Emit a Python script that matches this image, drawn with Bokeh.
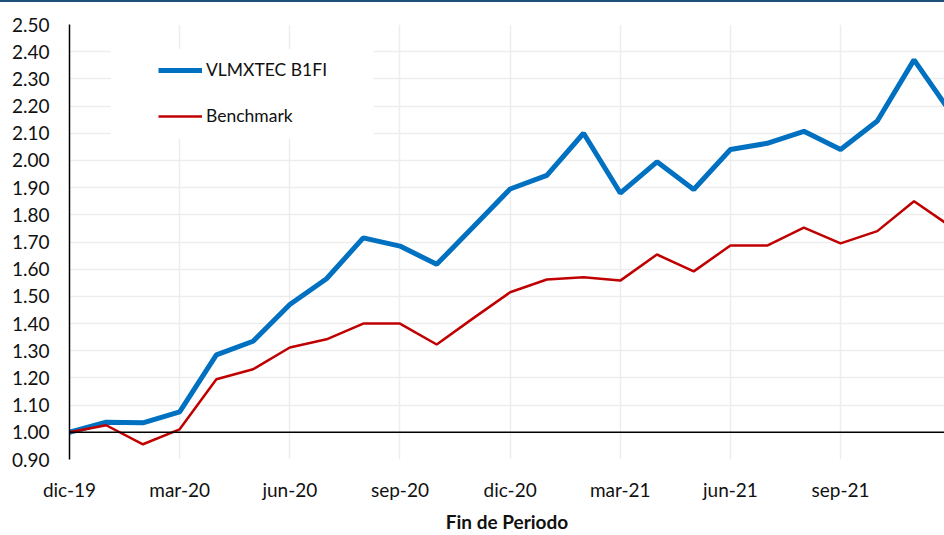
from bokeh.plotting import figure
from bokeh.layouts import column
from bokeh.models import (Range1d, FixedTicker, NumeralTickFormatter, Span,
                          BoxAnnotation, Spacer)
from bokeh.embed import file_html
from bokeh.resources import INLINE

# ---- data ----
months = ["dic-19", "ene-20", "feb-20", "mar-20", "abr-20", "may-20", "jun-20",
          "jul-20", "ago-20", "sep-20", "oct-20", "nov-20", "dic-20", "ene-21",
          "feb-21", "mar-21", "abr-21", "may-21", "jun-21", "jul-21", "ago-21",
          "sep-21", "oct-21", "nov-21", "dic-21"]
fund = [1.00, 1.037, 1.035, 1.075, 1.285, 1.335, 1.47, 1.565, 1.715, 1.685,
        1.618, 1.756, 1.895, 1.945, 2.10, 1.88, 1.995, 1.893, 2.04, 2.063,
        2.107, 2.04, 2.145, 2.37, 2.176]
bench = [1.00, 1.026, 0.956, 1.011, 1.195, 1.232, 1.312, 1.342, 1.40, 1.40,
         1.323, 1.42, 1.515, 1.562, 1.57, 1.558, 1.654, 1.592, 1.687, 1.687,
         1.753, 1.695, 1.74, 1.85, 1.757]
tick_idx = [0, 3, 6, 9, 12, 15, 18, 21]
y_ticks = [0.90, 1.00, 1.10, 1.20, 1.30, 1.40, 1.50, 1.60, 1.70, 1.80, 1.90,
           2.00, 2.10, 2.20, 2.30, 2.40, 2.50]
fund_name = "VLMXTEC B1FI"
bench_name = "Benchmark"
x_title = "Fin de Periodo"

FONT = "Lato"
x = list(range(len(months)))

p = figure(width=944, height=533, output_backend="svg", toolbar_location=None,
           x_range=Range1d(0, 23.83), y_range=Range1d(0.90, 2.50),
           min_border_left=69, min_border_top=22, min_border_right=0,
           min_border_bottom=76, background_fill_color="white",
           border_fill_color="white")
p.outline_line_color = None

# white legend background box (covers gridlines)
box = BoxAnnotation(left=1.12, right=8.29, bottom=2.081, top=2.41,
                    fill_color="white", fill_alpha=1.0, line_alpha=0)
p.add_layout(box)

# axes
p.xaxis.ticker = FixedTicker(ticks=tick_idx)
p.xaxis.major_label_overrides = {i: months[i] for i in tick_idx}
p.xaxis.axis_line_color = None
p.xaxis.major_tick_line_color = None
p.xaxis.minor_tick_line_color = None
p.xaxis.major_label_standoff = 12
p.xaxis.major_label_text_font = FONT
p.xaxis.major_label_text_font_size = "19px"
p.xaxis.major_label_text_color = "#111111"
p.xaxis.axis_label = x_title
p.xaxis.axis_label_standoff = 6
p.xaxis.axis_label_text_font = FONT
p.xaxis.axis_label_text_font_style = "bold"
p.xaxis.axis_label_text_font_size = "19px"
p.xaxis.axis_label_text_color = "#111111"

p.yaxis.ticker = FixedTicker(ticks=y_ticks)
p.yaxis.formatter = NumeralTickFormatter(format="0.00")
p.yaxis.axis_line_color = "black"
p.yaxis.axis_line_width = 1.5
p.yaxis.major_tick_line_color = None
p.yaxis.minor_tick_line_color = None
p.yaxis.major_label_standoff = 14
p.yaxis.major_label_text_font = FONT
p.yaxis.major_label_text_font_size = "19px"
p.yaxis.major_label_text_color = "#111111"

p.xgrid.ticker = FixedTicker(ticks=tick_idx)
p.ygrid.ticker = FixedTicker(ticks=y_ticks)
for g in (p.xgrid, p.ygrid):
    g.grid_line_color = "#EDEDED"
    g.grid_line_width = 1.5

# baseline at 1.00
p.add_layout(Span(location=1.0, dimension="width", line_color="black",
                  line_width=1.5))

# series
p.line(x, fund, line_color="#0070C0", line_width=5, legend_label=fund_name)
p.line(x, bench, line_color="#C00000", line_width=2.5, legend_label=bench_name)

lg = p.legend[0]
lg.location = (89, 333)
lg.background_fill_alpha = 0
lg.border_line_alpha = 0
lg.padding = 0
lg.margin = 0
lg.spacing = 25
lg.glyph_width = 44
lg.glyph_height = 20
lg.label_height = 20
lg.label_standoff = 4
lg.label_text_font = FONT
lg.label_text_font_size = "17.5px"
lg.label_text_color = "#111111"

top_bar = Spacer(width=944, height=2,
                 styles={"background-color": "#1F4E79"})
layout = column(top_bar, p, spacing=0)

open("out.html", "w").write(file_html(layout, INLINE))
